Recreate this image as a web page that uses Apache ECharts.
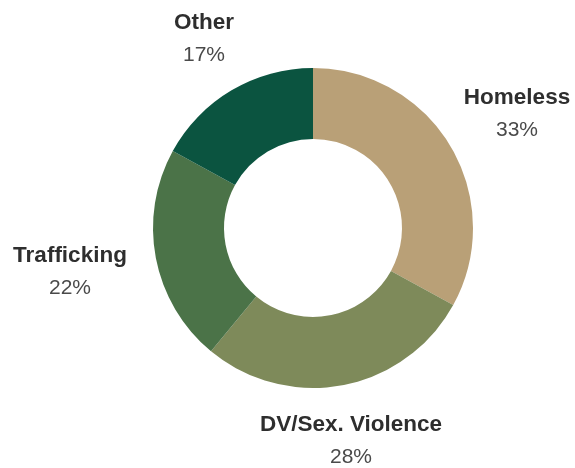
<!DOCTYPE html>
<html>
<head>
<meta charset="utf-8">
<style>
  html, body { margin: 0; padding: 0; background: #ffffff; }
  #chart { width: 575px; height: 468px; }
</style>
<script src="https://cdn.jsdelivr.net/npm/echarts@6/dist/echarts.min.js"></script>
</head>
<body>
<div id="chart"></div>
<script>
// Share of cases by category (percent), clockwise from 12 o'clock
const categories = ['Homeless', 'DV/Sex. Violence', 'Trafficking', 'Other'];
const shares = [33, 28, 22, 17];
const sliceColors = ['#b9a077', '#7e8a5a', '#4b7348', '#0b5440'];

// Label block centres (px) for each category
const labelCentres = [[517, 114], [351, 441], [70, 272], [204, 39]];

const chart = echarts.init(document.getElementById('chart'), null, { renderer: 'canvas' });

chart.setOption({
  backgroundColor: '#ffffff',
  animation: false,
  series: [{
    type: 'pie',
    center: [313, 228],
    radius: [89, 160],
    startAngle: 90,
    clockwise: true,
    silent: true,
    avoidLabelOverlap: false,
    data: categories.map((name, i) => ({
      name: name,
      value: shares[i],
      itemStyle: { color: sliceColors[i] }
    })),
    itemStyle: { borderWidth: 0 },
    labelLine: { show: false },
    label: {
      show: true,
      position: 'outside',
      alignTo: 'none',
      overflow: 'none',
      bleedMargin: 0,
      formatter: '{n|{b}}\n{p|{c}%}',
      rich: {
        n: {
          fontFamily: 'Liberation Sans, Arial, sans-serif',
          fontWeight: 'bold',
          fontSize: 22.5,
          color: '#2e2e2e',
          lineHeight: 33,
          align: 'center'
        },
        p: {
          fontFamily: 'Liberation Sans, Arial, sans-serif',
          fontSize: 21,
          color: '#4a4a4a',
          lineHeight: 33,
          align: 'center'
        }
      }
    },
    labelLayout: function (params) {
      const c = labelCentres[params.dataIndex];
      return { x: c[0], y: c[1], align: 'center', verticalAlign: 'middle' };
    }
  }]
});
</script>
</body>
</html>
